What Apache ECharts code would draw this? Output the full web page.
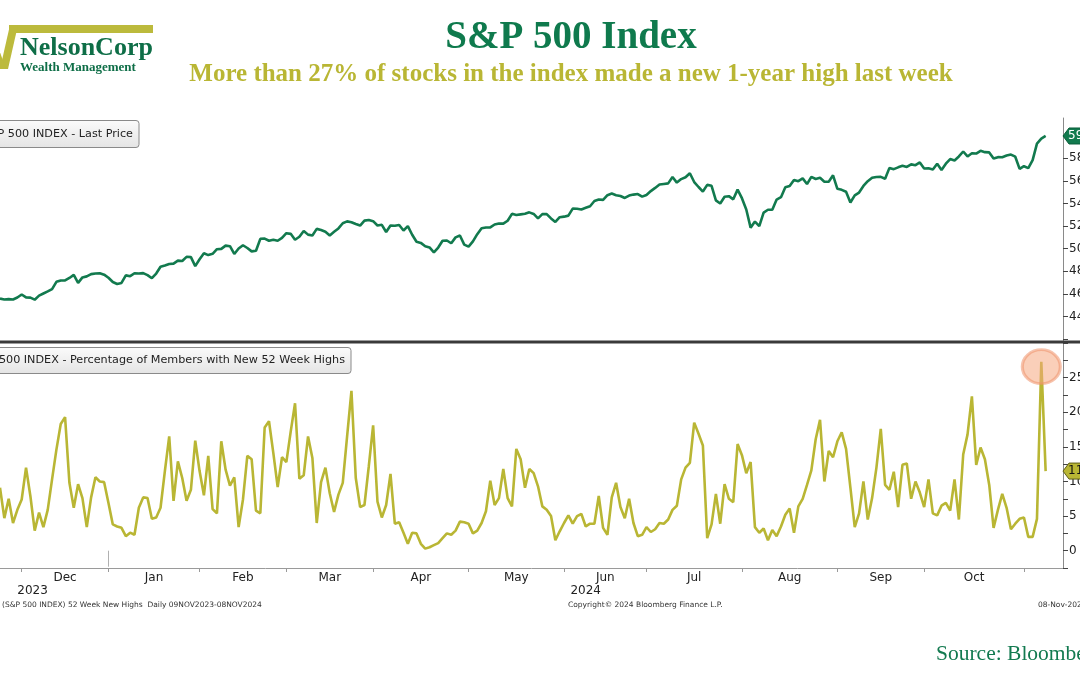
<!DOCTYPE html>
<html>
<head>
<meta charset="utf-8">
<script src="https://cdn.jsdelivr.net/npm/echarts@6/dist/echarts.min.js"></script>
<style>
html,body{margin:0;padding:0;background:#fff;}
#c{width:1080px;height:675px;}
</style>
</head>
<body>
<div id="c"></div>
<script>
// trading-day index (0 = 09 Nov 2023) of the first value in the arrays below (24 Nov 2023)
const firstDay = 10;
// S&P 500 last price, one value per trading day, 24 Nov 2023 .. 08 Nov 2024
const priceValues = [
  4559,4550,4554,4551,4568,
  4595,4569,4567,4549,4585,4604,4622,4643,4707,4719,4719,4741,4768,4698,4746,4755,4775,4781,4783,4770,
  4743,4705,4688,4697,4764,4757,4783,4780,4784,4766,4739,4780,4840,4851,4865,4868,4894,4891,4928,4925,4846,
  4906,4959,4943,4954,4995,4998,5027,5022,4953,5001,5030,5006,4976,4982,5087,5089,5070,5078,5070,5096,
  5137,5131,5079,5105,5157,5124,5117,5175,5165,5150,5117,5149,5179,5225,5241,5234,5218,5204,5248,5254,
  5243,5205,5211,5147,5204,5202,5209,5161,5199,5123,5061,5051,5022,5011,4967,5010,5070,5072,5048,5100,5116,5036,
  5018,5064,5128,5181,5187,5188,5214,5223,5221,5247,5308,5297,5303,5308,5321,5307,5268,5305,5306,5267,5236,5278,
  5283,5292,5354,5353,5347,5361,5375,5421,5434,5431,5473,5487,5473,5465,5448,5469,5478,5483,5460,
  5475,5509,5537,5567,5572,5577,5633,5584,5615,5631,5667,5589,5545,5505,5564,5556,5427,5399,5459,5464,5436,5522,
  5446,5346,5186,5240,5199,5319,5344,5344,5434,5455,5543,5554,5608,5597,5621,5571,5634,5616,5626,5592,5592,5648,
  5529,5520,5503,5408,5471,5496,5554,5596,5626,5634,5635,5618,5714,5703,5719,5732,5722,5745,5738,5762,
  5709,5710,5700,5751,5696,5751,5792,5780,5815,5859,5815,5843,5841,5865,5853,5851,5797,5809,5808,5823,5832,5813,5705,
  5729,5712,5782,5929,5973,5996
];
// % of members with new 52-week highs, one value per trading day, same days
const highsValues = [
  9.1,4.7,7.5,4.0,5.9,7.4,12.0,7.9,2.9,5.5,
  3.4,5.9,10.3,14.6,18.3,19.3,9.8,6.2,9.6,7.6,
  3.4,7.7,10.6,10.0,9.9,6.9,3.8,3.5,3.3,2.1,
  2.6,2.3,6.2,7.7,7.6,4.6,4.8,6.2,11.5,16.5,
  7.2,12.9,10.5,7.2,8.8,15.9,11.5,8.0,13.7,6.0,
  5.4,15.8,11.7,9.4,10.6,3.4,7.4,13.7,13.2,5.8,
  5.4,17.8,18.7,14.1,9.2,13.5,12.8,17.2,21.3,10.4,
  10.9,16.5,13.4,4.0,9.9,12.0,8.3,5.6,8.1,9.8,
  16.5,23.1,10.5,6.3,6.6,12.2,18.1,7.1,4.8,6.6,
  11.1,3.9,4.1,2.6,1.0,2.6,2.5,1.0,0.3,0.5,
  0.8,1.1,1.8,2.5,2.3,2.9,4.2,4.1,3.9,2.5,
  2.9,4.0,5.7,10.1,6.6,7.6,11.8,7.6,6.4,14.7,
  13.2,9.1,11.8,11.2,9.3,6.4,5.9,5.0,1.5,2.8,
  4.0,5.1,3.9,5.0,5.3,3.5,3.9,3.9,7.9,3.3,
  2.3,7.7,9.8,6.3,4.7,7.5,4.0,2.1,2.3,3.4,
  2.7,3.1,4.0,3.9,4.5,5.9,6.5,10.3,12.0,12.7,
  18.5,16.9,15.2,1.8,3.8,8.2,3.9,9.6,7.5,7.0,
  15.4,13.8,11.2,12.8,3.4,2.6,3.2,1.5,3.0,2.1,
  3.5,5.2,6.1,2.6,6.4,7.5,9.5,11.6,16.1,18.9,
  10.0,14.4,13.5,15.8,17.1,14.7,9.1,3.4,5.4,10.0,
  4.5,7.6,12.0,17.6,9.5,8.8,11.4,6.3,12.4,12.6,
  7.5,10.0,8.4,6.3,10.3,5.4,5.1,6.5,6.9,5.8,
  10.3,4.5,13.9,16.8,22.3,12.4,14.9,13.2,9.5,3.3,
  5.9,8.2,6.2,3.1,3.9,4.6,4.8,2.0,2.0,4.6,
  27.3,11.5
];
// month axis: names and trading-day index of each month's first session (last entry = Nov 2024)
const monthNames = ['Dec','Jan','Feb','Mar','Apr','May','Jun','Jul','Aug','Sep','Oct'];
const monthStarts = [15,35,56,76,96,118,140,159,181,203,223,246];
const yearNames = ['2023','2024'];
const yearBounds = [0,35,255];
const axisEndDay = 255;
const priceTicks = [4400,4600,4800,5000,5200,5400,5600,5800];
const priceMinorTicks = [4200,4400,4600,4800,5000,5200,5400,5600,5800,6000];
const highsTicks = [0,5,10,15,20,25];
const highsMinorTicks = [-2.5,0,2.5,5,7.5,10,12.5,15,17.5,20,22.5,25,27.5,30];

const GREEN = '#127a4e';
const OLIVE = '#b9b634';
const monthMids = monthNames.map((m,i)=>(monthStarts[i]+monthStarts[i+1])/2);
const yearMids = yearNames.map((y,i)=>(yearBounds[i]+yearBounds[i+1])/2);
const axisFont = {fontFamily:'DejaVu Sans', fontSize:12, color:'#222'};

const priceData = priceValues.map((v,i)=>[firstDay+i, v]);
const highsData = highsValues.map((v,i)=>[firstDay+i, v]);
let peakI = 0;
highsValues.forEach((v,i)=>{ if (v > highsValues[peakI]) peakI = i; });

const chart = echarts.init(document.getElementById('c'), null, {renderer:'canvas'});
chart.setOption({
  animation:false,
  backgroundColor:'#ffffff',
  grid:[
    {left:0, right:17, top:118, height:224, containLabel:false, outerBoundsMode:'none'},
    {left:0, right:17, top:343, height:225, containLabel:false, outerBoundsMode:'none'}
  ],
  xAxis:[
    {type:'value', gridIndex:0, min:firstDay, max:axisEndDay,
     axisLine:{show:false}, axisTick:{show:false}, axisLabel:{show:false}, splitLine:{show:false}},
    {type:'value', gridIndex:1, min:firstDay, max:axisEndDay, position:'bottom',
     axisLine:{show:true, onZero:false, lineStyle:{color:'#9a9a9a', width:1}},
     axisTick:{show:true, customValues:monthStarts, length:4, lineStyle:{color:'#9a9a9a'}},
     axisLabel:Object.assign({customValues:monthMids, margin:4,
       formatter:(v)=>monthNames[monthMids.indexOf(v)] || ''}, axisFont),
     splitLine:{show:false}},
    {type:'value', gridIndex:1, min:firstDay, max:axisEndDay, position:'bottom', offset:14,
     axisLine:{show:false},
     axisTick:{show:true, customValues:[yearBounds[1]], length:16, lineStyle:{color:'#b0b0b0'}},
     axisLabel:Object.assign({customValues:yearMids, margin:3,
       formatter:(v)=>yearNames[yearMids.indexOf(v)] || ''}, axisFont),
     splitLine:{show:false}}
  ],
  yAxis:[
    {type:'value', gridIndex:0, position:'right', min:4175, max:6155,
     axisLine:{show:true, lineStyle:{color:'#8a8a8a'}},
     axisTick:{show:true, customValues:priceMinorTicks, length:5, lineStyle:{color:'#444'}},
     axisLabel:Object.assign({customValues:priceTicks, margin:6, formatter:(v)=>String(v)}, axisFont),
     splitLine:{show:false}},
    {type:'value', gridIndex:1, position:'right', min:-2.5, max:30,
     axisLine:{show:true, lineStyle:{color:'#8a8a8a'}},
     axisTick:{show:true, customValues:highsMinorTicks, length:5, lineStyle:{color:'#444'}},
     axisLabel:Object.assign({customValues:highsTicks, margin:6, formatter:(v)=>String(v)}, axisFont),
     splitLine:{show:false}}
  ],
  series:[
    {type:'line', name:'S&P 500 INDEX - Last Price', xAxisIndex:0, yAxisIndex:0, data:priceData,
     symbol:'none', lineStyle:{color:GREEN, width:2.6}, clip:true, z:3},
    {type:'line', name:'S&P 500 INDEX - Percentage of Members with New 52 Week Highs', xAxisIndex:1, yAxisIndex:1, data:highsData,
     symbol:'none', lineStyle:{color:OLIVE, width:2.6}, clip:true, z:3,
     markPoint:{silent:true, symbol:'circle', symbolSize:[38,34], symbolOffset:[0,5],
       itemStyle:{color:'rgba(245,168,128,0.55)', borderColor:'rgba(238,145,105,0.55)', borderWidth:3},
       label:{show:false},
       data:[{coord:[firstDay+peakI, highsValues[peakI]]}]}}
  ]
});

const pLast = chart.convertToPixel({xAxisIndex:0, yAxisIndex:0}, [axisEndDay, priceValues[priceValues.length-1]]);
const hLast = chart.convertToPixel({xAxisIndex:1, yAxisIndex:1}, [axisEndDay, highsValues[highsValues.length-1]]);
function badge(p, fill, stroke, txtColor, txt){
  const x = p[0], y = p[1];
  return [
    {type:'polygon', z:50, shape:{points:[[x,y],[x+6,y-8],[x+60,y-8],[x+60,y+8],[x+6,y+8]]},
     style:{fill:fill, stroke:stroke, lineWidth:1}},
    {type:'text', z:51, style:{text:txt, x:x+5, y:y, textAlign:'left', textVerticalAlign:'middle',
     font:'12px "DejaVu Sans"', fill:txtColor}}
  ];
}
const grad = new echarts.graphic.LinearGradient(0,0,0,1,[{offset:0,color:'#fbfbfb'},{offset:1,color:'#e4e4e4'}]);
const grad2 = new echarts.graphic.LinearGradient(0,0,0,1,[{offset:0,color:'#fbfbfb'},{offset:1,color:'#e4e4e4'}]);
const graphics = [
  // logo
  {type:'rect', shape:{x:9, y:25, width:144, height:8}, style:{fill:'#bcba3c'}},
  {type:'polygon', shape:{points:[[10,25],[18,25],[8,69],[0,69]]}, style:{fill:'#bcba3c'}},
  {type:'polygon', shape:{points:[[-9,44],[-3,44],[6,69],[0,69]]}, style:{fill:'#bcba3c'}},
  {type:'text', style:{text:'NelsonCorp', x:20, y:48, textAlign:'left', textVerticalAlign:'middle',
    font:'bold 26px "Liberation Serif"', fill:'#0e6e47'}},
  {type:'text', style:{text:'Wealth Management', x:20, y:68, textAlign:'left', textVerticalAlign:'middle',
    font:'bold 13px "Liberation Serif"', fill:'#0e6e47'}},
  // titles
  {type:'text', style:{text:'S&P 500 Index', x:571, y:38, textAlign:'center', textVerticalAlign:'middle',
    font:'bold 39px "Liberation Serif"', fill:'#0f7a4d'}},
  {type:'text', style:{text:'More than 27% of stocks in the index made a new 1-year high last week', x:571, y:75,
    textAlign:'center', textVerticalAlign:'middle', font:'bold 25px "Liberation Serif"', fill:OLIVE}},
  // legend boxes
  {type:'rect', z:20, shape:{x:-20, y:120.5, width:159, height:27, r:3}, style:{fill:grad, stroke:'#8a8a8a', lineWidth:1}},
  {type:'text', z:21, style:{text:'S&P 500 INDEX - Last Price', x:133, y:134, textAlign:'right', textVerticalAlign:'middle',
    font:'11.2px "DejaVu Sans"', fill:'#222'}},
  {type:'rect', z:20, shape:{x:-20, y:347.5, width:371, height:26, r:3}, style:{fill:grad2, stroke:'#8a8a8a', lineWidth:1}},
  {type:'text', z:21, style:{text:'S&P 500 INDEX - Percentage of Members with New 52 Week Highs', x:345, y:360.5, textAlign:'right', textVerticalAlign:'middle',
    font:'11.2px "DejaVu Sans"', fill:'#222'}},
  // panel separator
  {type:'line', z:30, shape:{x1:0, y1:342, x2:1080, y2:342}, style:{stroke:'#3a3a3a', lineWidth:3}},
  // footers
  {type:'text', style:{text:'(S&P 500 INDEX) 52 Week New Highs  Daily 09NOV2023-08NOV2024', x:2, y:605, textAlign:'left', textVerticalAlign:'middle',
    font:'7.5px "DejaVu Sans"', fill:'#333'}},
  {type:'text', style:{text:'Copyright\u00A9 2024 Bloomberg Finance L.P.', x:568, y:605, textAlign:'left', textVerticalAlign:'middle',
    font:'7.5px "DejaVu Sans"', fill:'#333'}},
  {type:'text', style:{text:'08-Nov-2024', x:1038, y:605, textAlign:'left', textVerticalAlign:'middle',
    font:'7.5px "DejaVu Sans"', fill:'#333'}},
  {type:'text', style:{text:'Source: Bloomberg', x:936, y:654, textAlign:'left', textVerticalAlign:'middle',
    font:'21.5px "Liberation Serif"', fill:'#137a50'}}
].concat(
  badge(pLast, GREEN, '#0b5e3b', '#ffffff', priceValues[priceValues.length-1].toFixed(2)),
  badge(hLast, OLIVE, '#5f5e18', '#111111', highsValues[highsValues.length-1].toFixed(2))
);
chart.setOption({graphic:graphics});
</script>
</body>
</html>
